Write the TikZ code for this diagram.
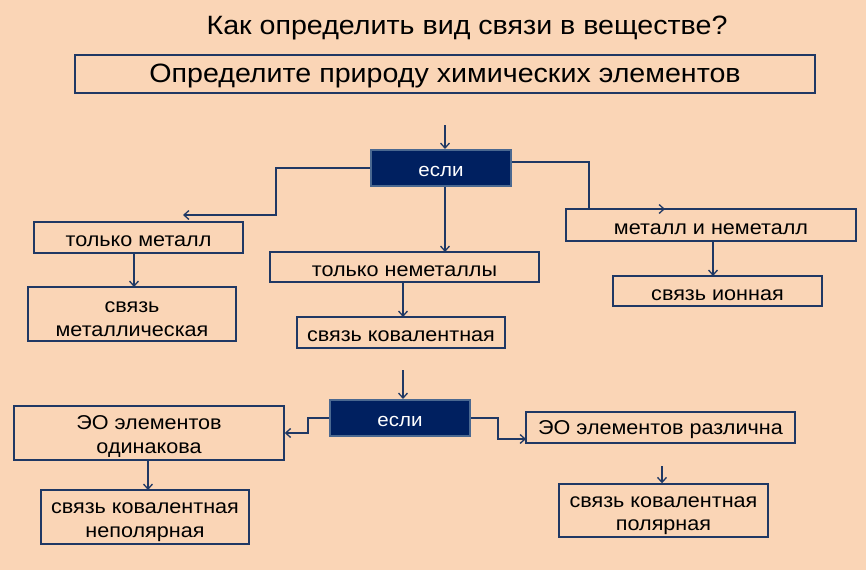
\documentclass[tikz,border=0pt]{standalone}
\usepackage{fontspec}
\setmainfont[FakeStretch=1.08]{Liberation Sans}
\usetikzlibrary{arrows.meta}
\definecolor{bg}{HTML}{FAD5B6}
\definecolor{navy}{HTML}{1F3864}
\definecolor{boxnavy}{HTML}{002060}
\definecolor{boxedge}{HTML}{4A6890}
\tikzset{
  bx/.style={draw=navy,line width=1.4pt,rectangle,inner sep=0pt,align=center,font=\fontsize{20}{23.5}\selectfont,execute at begin node={\rule{0pt}{18.5pt}}},
  twoline/.style={execute at begin node={\rule{0pt}{44.5pt}}},
  darkbx/.style={draw=boxedge,fill=boxnavy,line width=2pt,rectangle,inner sep=0pt,text=white,font=\fontsize{19}{22}\selectfont,execute at begin node={\rule{0pt}{17pt}}},
  conn/.style={draw=navy,line width=1.6pt,-{Straight Barb[length=5pt,width=9pt,line width=1.3pt]}},
}
\begin{document}
\begin{tikzpicture}[x=1pt,y=-1pt]
\fill[bg] (0,0) rectangle (866,570);
\useasboundingbox (0,0) rectangle (866,570);
\node (title) at (467,28) {\fontsize{26.5}{30}\selectfont Как определить вид связи в веществе?};
\node[bx,minimum width=740,minimum height=38,font=\fontsize{26.5}{30}\selectfont,execute at begin node={\rule{0pt}{22pt}}] (top) at (445,74) {Определите природу химических элементов};
\node[darkbx,minimum width=140,minimum height=36] (e1) at (441,168) {если};
\node[bx,minimum width=209,minimum height=31] (tm) at (138.5,237.5) {только металл};
\node[bx,twoline,minimum width=208,minimum height=54] (sm) at (132,314) {связь\\металлическая};
\node[bx,minimum width=269,minimum height=30] (tn) at (404.5,267) {только неметаллы};
\node[bx,minimum width=208,minimum height=31] (sk) at (401,332.5) {связь ковалентная};
\node[bx,minimum width=290,minimum height=32] (mn) at (711,225) {металл и неметалл};
\node[bx,minimum width=209,minimum height=30] (si) at (717.5,291) {связь ионная};
\node[darkbx,minimum width=140,minimum height=36] (e2) at (400,418) {если};
\node[bx,twoline,minimum width=270,minimum height=54] (eo1) at (149,433) {ЭО элементов\\одинакова};
\node[bx,twoline,minimum width=208,minimum height=54] (skn) at (145,517) {связь ковалентная\\неполярная};
\node[bx,minimum width=269,minimum height=31] (eo2) at (660.5,427.5) {ЭО элементов различна};
\node[bx,twoline,minimum width=209,minimum height=53] (skp) at (663.5,510.5) {связь ковалентная\\полярная};
\coordinate (a1) at (445,125);
\coordinate (a2) at (183,215);
\coordinate (a3) at (665,209);
\coordinate (a4) at (403,370);
\coordinate (a5) at (662,466);
\draw[conn] (a1) -- (a1 |- e1.north);
\draw[conn] (e1.west) -| (276,215) -- (a2);
\draw[conn] (134,253) -- (134,287);
\draw[conn] (e1.south -| 445,0) -- (445,252);
\draw[conn] (403,282) -- (403,317);
\draw[conn] (e1.east |- 0,162) -| (589,209) -- (a3);
\draw[conn] (713,241) -- (713,276);
\draw[conn] (a4) -- (a4 |- e2.north);
\draw[conn] (e2.west) -| (308,433) -- (eo1.east);
\draw[conn] (148,460) -- (148,490);
\draw[conn] (e2.east) -| (498,439) -- (526,439);
\draw[conn] (a5) -- (a5 |- skp.north);
\end{tikzpicture}
\end{document}
